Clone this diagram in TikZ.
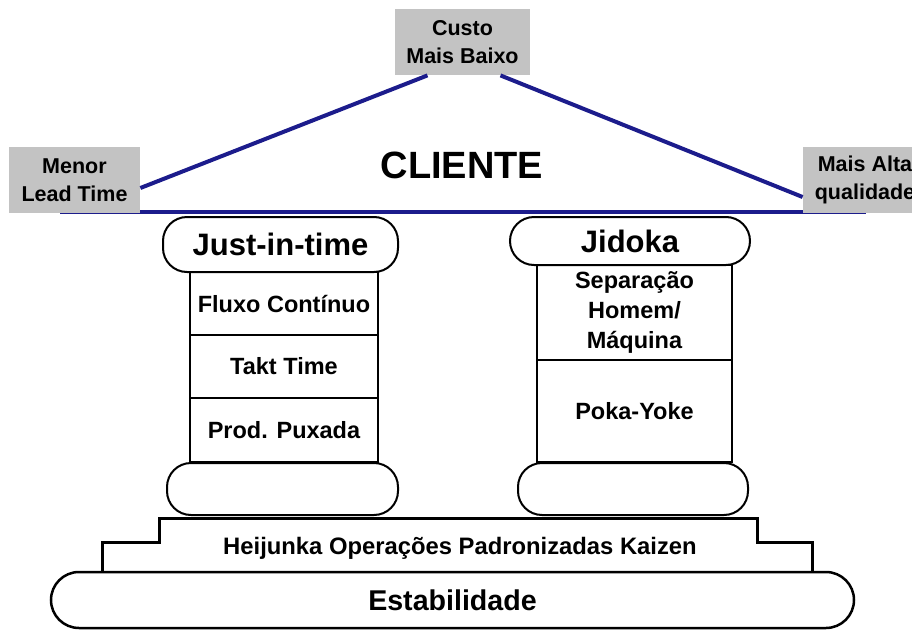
\documentclass[tikz,border=0pt]{standalone}
\usepackage{fontspec}
\setmainfont{Liberation Sans}
\usetikzlibrary{calc}
\definecolor{boxgray}{RGB}{195,195,195}
\definecolor{roofblue}{RGB}{28,28,140}

\begin{document}
\begin{tikzpicture}[x=0.5pt, y=-0.5pt,
  goal/.style={fill=boxgray, minimum width=67.5pt, minimum height=33pt, align=center, inner sep=0pt, font=\fontsize{10.75}{14}\selectfont\bfseries},
  roof/.style={line width=2pt, color=roofblue},
  capital/.style={draw, line width=1pt, fill=white, rounded corners=12pt, inner sep=0pt, font=\fontsize{15.5}{18}\selectfont\bfseries},
  cell/.style={draw, line width=1pt, fill=white, inner sep=0pt, align=center, font=\fontsize{11.75}{15}\selectfont\bfseries}]

\useasboundingbox (0,0) rectangle (912,632);

\coordinate (beamL) at (60,212);
\coordinate (beamR) at (866,212);
\draw [roof] (beamL) -- (beamR);

\node [goal] (custo) at (462.5,42) {Custo\\Mais Baixo};
\node [goal, minimum width=65.5pt] (menor) at (74.5,180) {Menor\\Lead Time};
\node [goal, minimum width=62pt] (maisalta) at (865,180) {Mais Alta\\qualidade};

\draw [roof] ([yshift=-4pt]menor.east) -- ([xshift=-17.5pt]custo.south);
\draw [roof] ([xshift=19pt]custo.south) -- ([yshift=-8.5pt]maisalta.west);

\node [font=\fontsize{19}{22}\selectfont\bfseries] (cliente) at (462,165) {CLIENTE};

\node [cell, minimum width=94pt, minimum height=31.5pt] (fluxo) at (284,303.5) {Fluxo Cont\'inuo};
\node [cell, minimum width=94pt, minimum height=31.5pt] (takt) at (284,366.5) {Takt Time};
\node [cell, minimum width=94pt, minimum height=32pt] (puxada) at (284,430) {Prod. Puxada};
\node [capital, minimum width=117.5pt, minimum height=27.5pt] (jit) at (280.5,244.5) {Just-in-time};
\node [capital, minimum width=115.5pt, minimum height=26pt] (jitbase) at (282.5,489) {};

\node [cell, minimum width=97.5pt, minimum height=47.5pt] (separa) at (634.5,312.5) {Separa\c{c}\~ao\\Homem/\\M\'aquina};
\node [cell, minimum width=97.5pt, minimum height=51pt] (poka) at (634.5,411) {Poka-Yoke};
\node [capital, minimum width=120pt, minimum height=24pt] (jidoka) at (630,241) {Jidoka};
\node [capital, minimum width=115pt, minimum height=26pt] (jidbase) at (633,489) {};

\draw [line width=1.5pt, fill=white]
(102,572) -- (102,542) -- (159,542) -- (159,518) -- (757,518) -- (757,542) -- (812,542) -- (812,572);
\node [font=\fontsize{11.9}{14}\selectfont\bfseries] (heijunka) at (460,548) {Heijunka Opera\c{c}\~oes Padronizadas Kaizen};

\node [draw, line width=1.25pt, fill=white, rounded corners=14pt, minimum width=401.5pt, minimum height=28pt, inner sep=0pt, font=\fontsize{14.3}{17}\selectfont\bfseries] (estab) at (452.5,600) {Estabilidade};
\end{tikzpicture}
\end{document}
